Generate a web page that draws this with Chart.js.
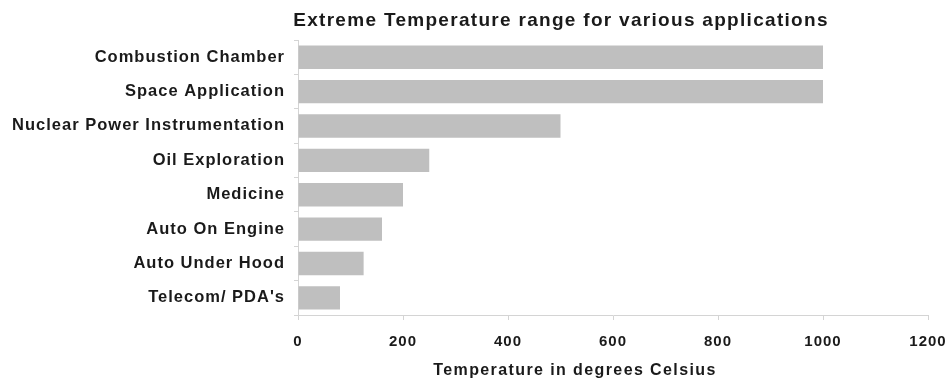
<!DOCTYPE html>
<html>
<head>
<meta charset="utf-8">
<script src="https://cdn.jsdelivr.net/npm/chart.js@4.4.1/dist/chart.umd.min.js"></script>
<style>
  html, body { margin: 0; padding: 0; background: #ffffff; }
  #wrap { width: 950px; height: 383px; position: relative; }
</style>
</head>
<body>
<div id="wrap"><canvas id="chart" width="950" height="383"></canvas></div>
<script>
// Applications and their extreme operating temperatures (°C)
const applications = [
  "Combustion Chamber",
  "Space Application",
  "Nuclear Power Instrumentation",
  "Oil Exploration",
  "Medicine",
  "Auto On Engine",
  "Auto Under Hood",
  "Telecom/ PDA's"
];
const temperatures = [1000, 1000, 500, 250, 200, 160, 125, 80];
const xTicks = [0, 200, 400, 600, 800, 1000, 1200];

const chartTitle = "Extreme Temperature range for various applications";
const xAxisTitle = "Temperature in degrees Celsius";

const FONT = "'Liberation Sans', Arial, sans-serif";
const TEXT = "#1a1a1a";
const AXIS = "#d4d4d4";

// Slightly loose tracking for all tick text
const tracking = {
  id: "tracking",
  beforeDraw(chart) { chart.ctx.letterSpacing = "1px"; },
  afterDraw(chart) { chart.ctx.letterSpacing = "0px"; }
};

// Headings drawn at fixed spots above and below the plot
const headings = {
  id: "headings",
  afterDraw(chart) {
    const c = chart.ctx;
    c.save();
    c.fillStyle = TEXT;
    c.textAlign = "center";
    c.textBaseline = "alphabetic";
    c.letterSpacing = "1.3px";
    c.font = "bold 19px " + FONT;
    c.fillText(chartTitle, 561, 26);
    c.letterSpacing = "1.4px";
    c.font = "bold 16px " + FONT;
    c.fillText(xAxisTitle, 575, 375);
    c.restore();
  }
};

new Chart(document.getElementById("chart"), {
  type: "bar",
  data: {
    labels: applications,
    datasets: [{
      data: temperatures,
      backgroundColor: "#bfbfbf",
      borderWidth: 0,
      categoryPercentage: 1.0,
      barPercentage: 0.68
    }]
  },
  options: {
    indexAxis: "y",
    responsive: false,
    animation: false,
    layout: { padding: { top: 40, right: 22, bottom: 0, left: 0 } },
    plugins: {
      legend: { display: false },
      tooltip: { enabled: false },
      title: { display: false }
    },
    scales: {
      x: {
        min: 0,
        max: 1200,
        afterBuildTicks(scale) { scale.ticks = xTicks.map(v => ({ value: v })); },
        afterFit(scale) {
          scale.height = 68;
          scale.paddingRight = 0;
          scale.paddingLeft = 0;
        },
        grid: { drawOnChartArea: false, drawTicks: true, tickLength: 5, color: AXIS },
        border: { color: AXIS, width: 1 },
        ticks: {
          color: TEXT,
          padding: 13,
          callback: v => String(v),
          font: { family: FONT, size: 15, weight: "bold" }
        }
      },
      y: {
        afterFit(scale) { scale.width = 298; },
        grid: { drawOnChartArea: false, offset: true, tickLength: 4, color: AXIS },
        border: { color: AXIS, width: 1 },
        ticks: {
          color: TEXT,
          padding: 9,
          font: { family: FONT, size: 16.5, weight: "bold" }
        }
      }
    }
  },
  plugins: [tracking, headings]
});
</script>
</body>
</html>
